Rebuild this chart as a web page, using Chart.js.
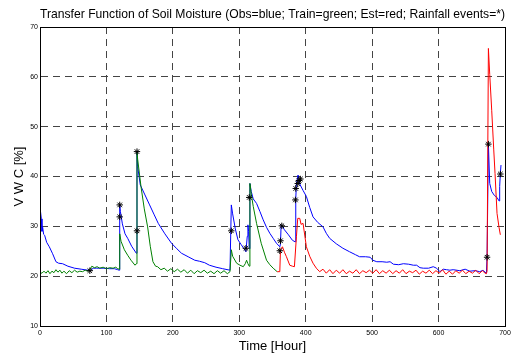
<!DOCTYPE html>
<html>
  <head>
    <meta charset="utf-8" />
    <title>Transfer Function of Soil Moisture</title>
    <style>
      html, body { margin: 0; padding: 0; background: #fff; }
      #wrap { width: 515px; height: 354px; }
    </style>
  </head>
  <body>
    <div id="wrap"><canvas id="chart" width="515" height="354"></canvas></div>
    <script src="https://cdn.jsdelivr.net/npm/chart.js@4.4.1/dist/chart.umd.min.js"></script>
    <script>
      // observed VWC (blue)
      const obsHours = [0, 0.5, 2, 3, 4, 5.5, 7, 10, 14, 19, 24, 28, 34, 42, 52, 62, 72, 76, 80, 85, 95, 105, 112, 117, 119,
        120, 121, 124, 128, 132, 138, 145, 146, 147, 151, 158, 165, 172, 178, 188, 198, 206, 213, 223, 233, 240, 248, 255,
        265, 275, 286, 288, 290, 294, 298, 303, 308, 310, 312, 313, 314, 315, 316, 318, 321, 326, 331, 336, 341, 346, 351,
        356, 361, 362, 363, 368, 374, 380, 384, 385, 386, 388.5, 391, 396, 401, 406, 411, 418, 426, 431, 436, 446, 456,
        466, 475, 481, 490, 497, 501, 507, 515, 522, 527, 532, 540, 547, 555, 562, 567, 572, 577, 585, 592, 597, 602, 607,
        612, 617, 622, 632, 640, 647, 655, 662, 667, 670, 672, 673, 675, 677, 680, 684, 688, 691, 692, 693, 694];
      const obsVwc = [25.9, 33.3, 31.5, 29.0, 29.8, 28.4, 28.2, 26.8, 25.9, 24.5, 22.9, 22.6, 22.5, 22.0, 21.6, 21.4, 21.2,
        21.1, 21.6, 21.6, 21.6, 21.5, 21.5, 21.3, 21.2,
        34.3, 33.0, 30.5, 28.5, 27.6, 26.0, 24.6, 45.0, 42.0, 38.3, 36.3, 34.3, 32.3, 30.6, 28.5, 26.6, 25.5, 24.6, 23.9,
        23.2, 23.0, 22.7, 22.2, 21.8, 21.5, 21.2, 34.3, 32.5, 29.5, 27.3, 26.3, 25.3, 24.9, 28.0, 30.3, 29.0, 25.5, 38.6,
        37.0, 35.5, 34.6, 33.0, 31.3, 29.8, 28.6, 27.6, 26.6, 25.9, 26.5, 30.3, 29.3, 28.3, 27.2, 26.9, 35.5, 38.6, 40.3,
        38.5, 37.2, 36.0, 33.8, 31.9, 30.8, 29.9, 28.6, 27.6, 26.5, 25.6, 24.9, 24.3, 23.9, 23.9, 23.8, 23.2, 22.9, 22.9,
        22.8, 22.9, 22.4, 22.3, 22.5, 22.4, 22.2, 22.2, 21.7, 21.6, 21.6, 21.9, 21.6, 20.9, 21.4, 21.3, 21.2, 21.3, 21.1,
        21.4, 21.0, 21.1, 20.9, 21.2, 20.8, 20.6, 24.0, 46.5, 38.6, 37.0, 36.2, 35.8, 35.1, 38.0, 40.6, 42.3];

      // training fit (green)
      const trainHours = [0, 3, 6, 9, 12, 15, 18, 21, 24, 27, 30, 33, 36, 40, 44, 48, 52, 56, 60, 64, 68, 72, 75, 78, 82,
        86, 90, 95, 100, 105, 110, 114, 117, 119, 120, 122, 127, 132, 137, 143, 145, 146, 147, 152, 157, 162, 166, 170,
        174, 177, 182, 187, 192, 197, 202, 207, 212, 217, 222, 227, 232, 237, 242, 247, 252, 257, 262, 267, 272, 277, 282,
        286, 288, 290, 296, 301, 306, 309, 311, 313, 315, 316, 318, 321, 326, 333, 341, 346, 351, 357];
      const trainVwc = [20.7, 20.6, 21.0, 20.6, 21.1, 20.5, 21.0, 20.7, 21.3, 20.8, 21.2, 20.6, 21.0, 20.5, 21.1, 20.7,
        21.2, 20.8, 21.0, 20.9, 21.2, 21.0, 21.3, 22.0, 21.7, 21.9, 21.6, 21.8, 21.5, 21.7, 21.6, 21.8, 21.5, 21.4, 28.5,
        27.0, 25.3, 24.2, 23.2, 22.2, 22.5, 45.0, 43.5, 38.0, 33.5, 29.9, 26.0, 22.9, 22.0, 21.9, 21.3, 21.6, 21.0, 21.5,
        20.9, 21.4, 20.8, 21.3, 20.6, 21.2, 20.5, 21.1, 20.7, 21.2, 20.6, 21.0, 20.5, 21.1, 20.6, 21.1, 20.5, 20.9, 25.3,
        24.0, 22.6, 22.2, 21.9, 22.5, 23.2, 22.5, 22.0, 38.6, 36.5, 34.0, 30.6, 26.6, 23.2, 22.3, 21.6, 20.9];

      // estimate (red)
      const estHours = [357, 361, 362, 365, 368, 371, 376, 380, 383, 386, 388, 391, 393, 396, 401, 406, 411, 416, 421,
        426, 431, 436, 441, 446, 451, 456, 461, 466, 471, 476, 481, 486, 491, 496, 501, 506, 511, 516, 521, 526, 531, 536,
        541, 546, 551, 556, 561, 566, 571, 576, 581, 586, 591, 596, 601, 606, 611, 616, 621, 626, 631, 636, 641, 646, 651,
        656, 661, 666, 670, 672, 673, 675, 677, 680, 683, 685, 688, 691, 693];
      const estVwc = [20.9, 20.9, 25.3, 25.9, 24.8, 23.9, 22.2, 22.0, 21.9, 27.9, 31.6, 31.6, 30.4, 30.6, 25.9, 24.0,
        22.6, 21.6, 20.9, 21.4, 20.6, 21.3, 20.5, 21.2, 20.6, 21.3, 20.5, 21.0, 20.6, 21.3, 20.5, 21.1, 20.7, 21.2, 20.6,
        21.3, 20.5, 21.1, 20.6, 21.2, 20.5, 21.1, 20.6, 21.3, 20.5, 21.0, 20.7, 21.2, 20.4, 21.0, 20.6, 21.2, 20.5, 21.1,
        20.6, 21.3, 20.4, 21.0, 20.4, 21.1, 20.6, 21.2, 20.5, 21.0, 20.6, 21.2, 20.5, 21.1, 20.6, 20.5, 21.0, 65.7, 60.5,
        53.3, 45.5, 40.6, 32.6, 29.8, 28.3];

      // rainfall events (*)
      const rainHours = [75, 120, 120, 146, 146, 288, 310, 315, 361, 362, 364, 384.5, 385, 388, 390, 392, 673, 675, 693];
      const rainVwc = [21.1, 34.3, 31.9, 45.0, 29.1, 29.1, 25.6, 35.8, 25.1, 27.1, 30.1, 35.3, 37.6, 38.6, 39.2, 39.5,
        23.8, 46.5, 40.5];

      const xTicks = [0, 100, 200, 300, 400, 500, 600, 700];
      const yTicks = [10, 20, 30, 40, 50, 60, 70];

      function pts(xs, ys) {
        return xs.map((x, i) => ({ x: x, y: ys[i] }));
      }

      // black frame round the plot (MATLAB box on)
      const boxPlugin = {
        id: "box",
        afterDatasetsDraw(chart) {
          const a = chart.chartArea;
          const c = chart.ctx;
          c.save();
          c.strokeStyle = "#000";
          c.lineWidth = 1;
          c.strokeRect(Math.round(a.left) + 0.5, Math.round(a.top) + 0.5,
            Math.round(a.right - a.left), Math.round(a.bottom - a.top));
          c.restore();
        },
      };

      const tickFont = { family: "Liberation Sans, Arial", size: 7 };
      const ctx = document.getElementById("chart").getContext("2d");
      new Chart(ctx, {
        type: "line",
        data: {
          datasets: [
            {
              label: "Rainfall events",
              data: pts(rainHours, rainVwc),
              showLine: false,
              pointStyle: "star",
              pointRadius: 3.2,
              borderColor: "#000",
              backgroundColor: "#000",
              borderWidth: 1,
            },
            {
              label: "Est",
              data: pts(estHours, estVwc),
              borderColor: "#ff0000",
              borderWidth: 1,
              pointRadius: 0,
              tension: 0,
            },
            {
              label: "Train",
              data: pts(trainHours, trainVwc),
              borderColor: "#008000",
              borderWidth: 1,
              pointRadius: 0,
              tension: 0,
            },
            {
              label: "Obs",
              data: pts(obsHours, obsVwc),
              borderColor: "#0000ff",
              borderWidth: 1,
              pointRadius: 0,
              tension: 0,
            },
          ],
        },
        options: {
          responsive: false,
          animation: false,
          layout: { padding: { left: 0, right: 10, top: 0, bottom: 0 } },
          plugins: {
            legend: { display: false },
            tooltip: { enabled: false },
            title: {
              display: true,
              fullSize: false,
              text: "Transfer Function of Soil Moisture (Obs=blue; Train=green; Est=red; Rainfall events=*)",
              color: "#000",
              font: { family: "Liberation Sans, Arial", size: 12.6, weight: "normal" },
              padding: { top: 6.5, bottom: 5.4 },
            },
          },
          scales: {
            x: {
              type: "linear",
              min: 0,
              max: 700,
              afterBuildTicks: (s) => { s.ticks = xTicks.map((v) => ({ value: v })); },
              afterFit: (s) => { s.height = 28; },
              ticks: { color: "#000", font: tickFont, padding: 3, maxRotation: 0 },
              grid: { color: "#444", lineWidth: 1, drawTicks: false },
              border: { display: true, color: "#000", dash: [7, 5] },
              title: {
                display: true,
                text: "Time [Hour]",
                color: "#000",
                font: { family: "Liberation Sans, Arial", size: 13 },
                padding: 0,
              },
            },
            y: {
              min: 10,
              max: 70,
              afterBuildTicks: (s) => { s.ticks = yTicks.map((v) => ({ value: v })); },
              afterFit: (s) => { s.width = 40; },
              ticks: { color: "#000", font: tickFont, padding: 2 },
              grid: { color: "#444", lineWidth: 1, drawTicks: false },
              border: { display: true, color: "#000", dash: [7, 5] },
              title: {
                display: true,
                text: "V W C [%]",
                color: "#000",
                font: { family: "Liberation Sans, Arial", size: 13 },
                padding: { top: 12, bottom: 0 },
              },
            },
          },
        },
        plugins: [boxPlugin],
      });
    </script>
  </body>
</html>
